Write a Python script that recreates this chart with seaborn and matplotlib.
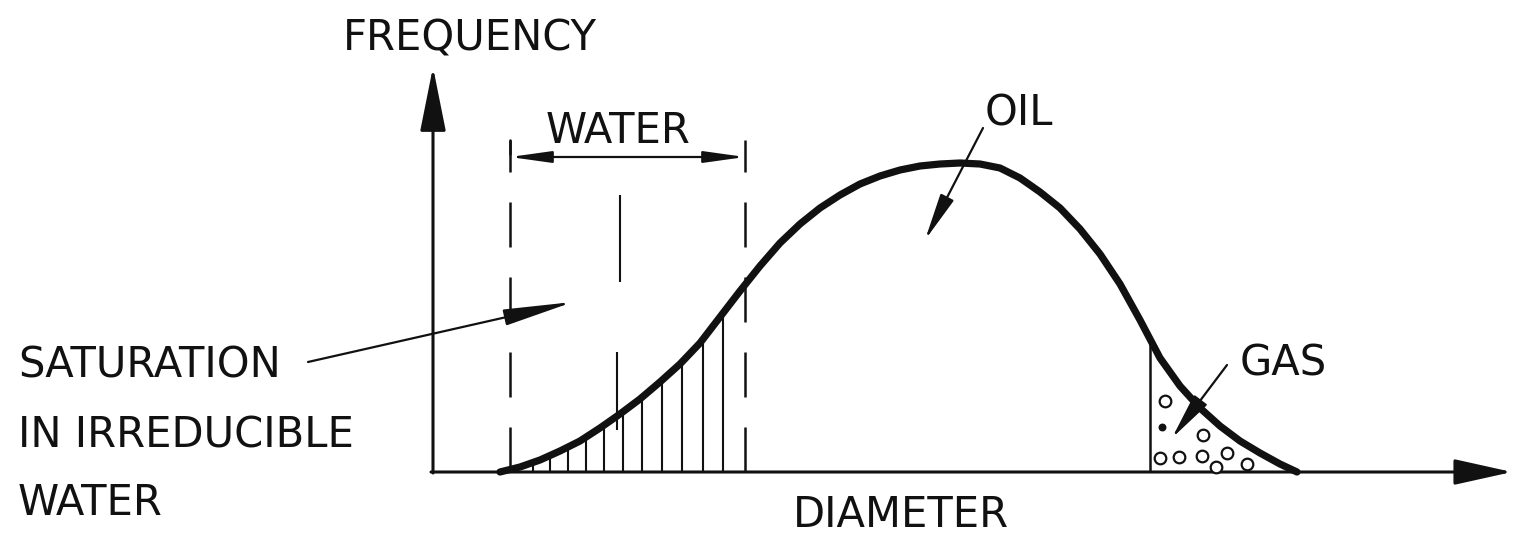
import numpy as np
import pandas as pd
import matplotlib
matplotlib.use("Agg")
import matplotlib.pyplot as plt
import seaborn as sns

# ---- data (schematic pore-size distribution) ----
curve_diameter = [500, 520, 540, 560, 580, 600, 620, 640, 660, 680, 700, 720, 740, 760,
                  780, 800, 820, 840, 860, 880, 900, 920, 940, 960, 980, 1000, 1020,
                  1040, 1060, 1080, 1100, 1120, 1140, 1160, 1180, 1200, 1220, 1240,
                  1260, 1280, 1297]
curve_frequency = [0, 5, 12, 21, 31, 44, 58, 73, 90, 108, 129, 155, 181, 206,
                   229, 248, 264, 277, 288, 296, 302, 306, 308, 309, 308, 304, 294,
                   280, 264, 243, 218, 188, 152, 114, 86, 64, 46, 31,
                   19, 8, 0]

water_range = [510, 745]          # irreducible water limits (diameter)
hatch_diameters = [533, 550, 568, 586, 604, 623, 642, 662, 682, 703, 723]
gas_start = 1150

gas_bubble_x = [1165, 1160, 1179, 1203, 1202, 1227, 1216, 1247]
gas_bubble_y = [71, 14, 15, 37, 16, 19, 5, 8]
gas_dot_x = [1162]
gas_dot_y = [45]

labels = {
    "frequency": "FREQUENCY",
    "diameter": "DIAMETER",
    "water": "WATER",
    "oil": "OIL",
    "gas": "GAS",
    "sat": ["SATURATION", "IN IRREDUCIBLE", "WATER"],
}

INK = "#111111"
FS = 30

sns.set_style("white")
plt.rcParams["font.family"] = ["DejaVu Sans"]

fig = plt.figure(figsize=(15.16, 5.34), dpi=100)
ax = fig.add_axes([0, 0, 1, 1])
ax.set_xlim(0, 1516)
ax.set_ylim(-62, 472)
ax.set_axis_off()

df = pd.DataFrame({"diameter": curve_diameter, "frequency": curve_frequency})
sns.lineplot(data=df, x="diameter", y="frequency", sort=False, color=INK,
             linewidth=5.2, ax=ax, solid_capstyle="round", solid_joinstyle="round")

# axes arrows
ax.annotate("", xy=(1512, 0), xytext=(431, 0),
            arrowprops=dict(arrowstyle="-|>,head_length=3.6,head_width=0.8",
                            mutation_scale=10, color=INK, lw=2.2, shrinkA=0, shrinkB=0))
ax.annotate("", xy=(433, 405), xytext=(433, -1),
            arrowprops=dict(arrowstyle="-|>,head_length=4.0,head_width=0.8",
                            mutation_scale=10, color=INK, lw=2.2, shrinkA=0, shrinkB=0))

# hatching under curve (water zone)
hx = np.array(hatch_diameters, dtype=float)
hy = np.interp(hx, curve_diameter, curve_frequency)
ax.vlines(hx, 0, hy, color=INK, lw=1.5)
# center mark line
ax.vlines([617], [42], [120], color=INK, lw=1.5)
ax.vlines([620], [190], [277], color=INK, lw=1.5)

# dashed limits
for xv in water_range:
    ax.plot([xv, xv], [0, 332], color=INK, lw=1.8, dashes=(18, 12))

# dimension arrow WATER
ax.plot([water_range[0], water_range[0]], [318, 332], color=INK, lw=1.8)
ax.annotate("", xy=(water_range[0], 315), xytext=(water_range[1], 315),
            arrowprops=dict(arrowstyle="<|-|>,head_length=2.5,head_width=0.35",
                            mutation_scale=10, color=INK, lw=1.6, shrinkA=0, shrinkB=0))
ax.text(546, 472 - 143, labels["water"], fontsize=FS, color=INK, va="baseline", ha="left")

# OIL
ax.text(985, 472 - 125, labels["oil"], fontsize=FS, color=INK, va="baseline", ha="left")
ax.annotate("", xy=(925, 472 - 240), xytext=(983, 472 - 128),
            arrowprops=dict(arrowstyle="-|>,head_length=2.9,head_width=0.45",
                            mutation_scale=10, color=INK, lw=1.6, shrinkA=0, shrinkB=0))

# GAS zone
gy = np.interp(gas_start, curve_diameter, curve_frequency)
ax.vlines([gas_start], 0, gy, color=INK, lw=1.8)
gdf = pd.DataFrame({"d": gas_bubble_x, "f": gas_bubble_y})
sns.scatterplot(data=gdf, x="d", y="f", marker="o", s=70, facecolor="white",
                edgecolor=INK, linewidth=1.6, ax=ax, zorder=5)
ax.scatter(gas_dot_x, gas_dot_y, s=22, color=INK, zorder=5)
ax.text(1240, 472 - 375, labels["gas"], fontsize=FS, color=INK, va="baseline", ha="left")
ax.annotate("", xy=(1172, 472 - 438), xytext=(1227, 472 - 365),
            arrowprops=dict(arrowstyle="-|>,head_length=2.9,head_width=0.5",
                            mutation_scale=10, color=INK, lw=1.6, shrinkA=0, shrinkB=0))

# saturation label
for txt, base in zip(labels["sat"], [378, 448, 515]):
    ax.text(18, 472 - base, txt, fontsize=FS, color=INK, va="baseline", ha="left")
ax.annotate("", xy=(573, 472 - 302), xytext=(308, 472 - 362),
            arrowprops=dict(arrowstyle="-|>,head_length=4.3,head_width=0.5",
                            mutation_scale=10, color=INK, lw=1.6, shrinkA=0, shrinkB=0))

# axis titles
ax.text(343, 472 - 50, labels["frequency"], fontsize=FS, color=INK, va="baseline", ha="left")
ax.text(793, 472 - 527, labels["diameter"], fontsize=FS, color=INK, va="baseline", ha="left")

fig.savefig("out.png", dpi=100, facecolor="white")
